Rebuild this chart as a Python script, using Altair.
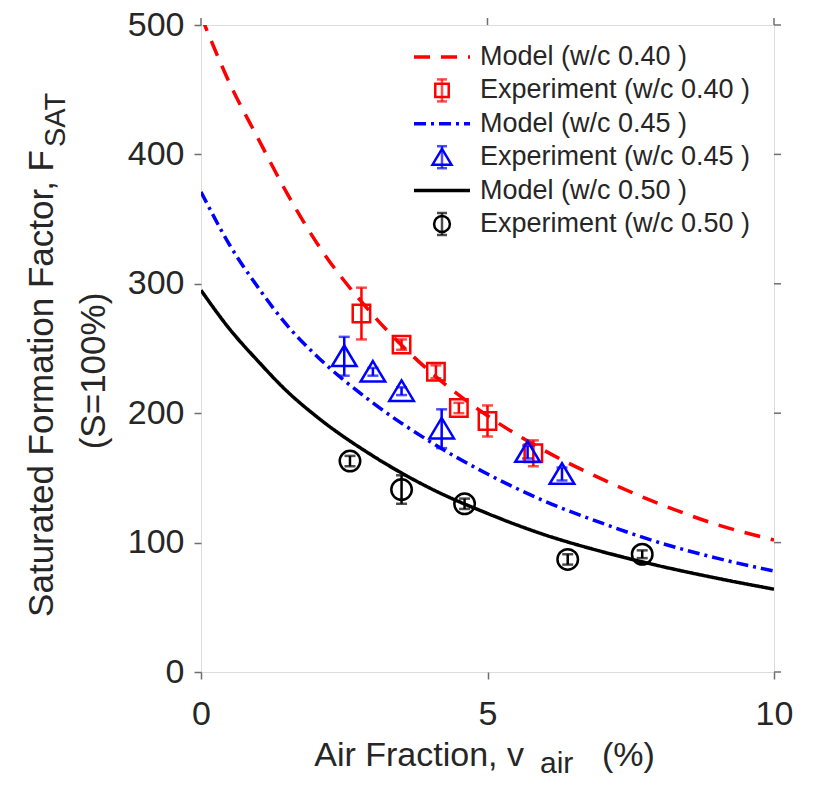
import altair as alt
import pandas as pd

# ---------------- data ----------------
model_x = [0, 0.5, 1, 1.5, 2, 3, 4, 5, 6, 7, 8, 9, 10]
model_040 = [507, 455, 412, 370, 333, 276, 232, 198, 171, 149, 130, 114, 102]
model_045 = [371, 330, 297, 268, 245, 208, 178, 153, 132, 115, 100, 88, 78]
model_050 = [295, 265, 240, 217, 198, 167, 142, 122.5, 106, 93, 82, 72.5, 64]

exp040_x = [2.8, 3.5, 4.1, 4.5, 5.0, 5.8]
exp040_y = [277, 253, 232, 204, 194, 169]
exp040_e = [20, 4, 5, 4, 12, 10]

exp045_x = [2.5, 3.0, 3.5, 4.2, 5.7, 6.3]
exp045_y = [244, 232, 217, 188, 170, 153]
exp045_e = [15, 3, 3, 15, 5, 5]

exp050_x = [2.6, 3.5, 4.6, 6.4, 7.7]
exp050_y = [163, 141, 130, 87, 91]
exp050_e = [4, 11, 4, 4, 3]

series = ["Model (w/c 0.40 )", "Experiment (w/c 0.40 )",
          "Model (w/c 0.45 )", "Experiment (w/c 0.45 )",
          "Model (w/c 0.50 )", "Experiment (w/c 0.50 )"]
kinds = ["model", "exp", "model", "exp", "model", "exp"]

x_ticks = [0, 5, 10]
y_ticks = [0, 100, 200, 300, 400, 500]

y_title = "Saturated Formation Factor, F"
y_title_sub = "SAT"
y_title2 = "(S=100%)"
x_title = "Air Fraction, v"
x_title_sub = "air"
x_title_tail = "(%)"

# ---------------- styles ----------------
colors = ["#ff0000", "#ff0000", "#0000ff", "#0000ff", "#000000", "#000000"]
shapes = ["M-2.7,0H2.7", "M-0.85,-0.85H0.85V0.85H-0.85Z",
          "M-2.7,0H2.7", "M0,-1.05L1.2,0.95L-1.2,0.95Z",
          "M-2.7,0H2.7", "circle"]
dashes = [[16, 11], [1, 0], [12, 5, 3, 5], [1, 0], [1, 0], [1, 0]]

W, H = 573, 647
TOP = 17
FONT = "Liberation Sans"
AX = "#6f6f6f"
TXT = "#262626"

# ---------------- tables ----------------
lines = pd.concat([
    pd.DataFrame({"x": model_x, "F": model_040, "s": series[0]}),
    pd.DataFrame({"x": model_x, "F": model_045, "s": series[2]}),
    pd.DataFrame({"x": model_x, "F": model_050, "s": series[4]}),
])


def exp_df(xs, ys, es, name):
    return pd.DataFrame({"x": xs, "F": ys,
                         "lo": [a - b for a, b in zip(ys, es)],
                         "hi": [a + b for a, b in zip(ys, es)],
                         "s": name})


pts = pd.concat([
    exp_df(exp040_x, exp040_y, exp040_e, series[1]),
    exp_df(exp045_x, exp045_y, exp045_e, series[3]),
    exp_df(exp050_x, exp050_y, exp050_e, series[5]),
])

leg = pd.DataFrame({"s": series, "kind": kinds})
leg_model = leg[leg["kind"] == "model"]
leg_exp = leg[leg["kind"] == "exp"]

xs = alt.Scale(domain=[0, 10], nice=False)
ys = alt.Scale(domain=[0, 500], nice=False)
x_axis = alt.Axis(values=x_ticks, title=None, grid=False, domain=False,
                  tickSize=7, tickWidth=1.5, tickColor=AX,
                  labelFont=FONT, labelFontSize=34, labelColor=TXT,
                  labelPadding=18, labelFlush=False)
y_axis = alt.Axis(values=y_ticks, title=None, grid=False, domain=False,
                  tickSize=7, tickWidth=1.5, tickColor=AX,
                  labelFont=FONT, labelFontSize=34, labelColor=TXT,
                  labelPadding=10, labelFlush=False)

X = alt.X("x:Q", scale=xs, axis=x_axis)
Y = alt.Y("F:Q", scale=ys, axis=y_axis)
color = alt.Color("s:N", scale=alt.Scale(domain=series, range=colors), legend=None)
shape = alt.Shape("s:N", scale=alt.Scale(domain=series, range=shapes), legend=None)
dash = alt.StrokeDash("s:N", scale=alt.Scale(domain=series, range=dashes), legend=None)

line_layer = alt.Chart(lines).mark_line(
    strokeWidth=3.5, clip=True, interpolate="monotone"
).encode(x=X, y=Y, color=color, strokeDash=dash, detail="s:N")

bar_layer = alt.Chart(pts).mark_rule(strokeWidth=2.5).encode(
    x=X, y=alt.Y("lo:Q", scale=ys, axis=y_axis), y2="hi:Q", color=color)
cap_lo = alt.Chart(pts).mark_tick(orient="horizontal", size=11, thickness=2.5).encode(
    x=X, y=alt.Y("lo:Q", scale=ys, axis=y_axis), color=color)
cap_hi = alt.Chart(pts).mark_tick(orient="horizontal", size=11, thickness=2.5).encode(
    x=X, y=alt.Y("hi:Q", scale=ys, axis=y_axis), color=color)

pt_layer = alt.Chart(pts).mark_point(
    filled=False, size=420, strokeWidth=2.5, opacity=1
).encode(x=X, y=Y, color=color, shape=shape)

# outward ticks on top and right edges
ytk = pd.DataFrame({"F": y_ticks})
xtk = pd.DataFrame({"x": x_ticks})
right_ticks = alt.Chart(ytk).mark_rule(color=AX, strokeWidth=1.5).encode(
    y=Y, x=alt.value(W), x2=alt.value(W + 7))
top_ticks = alt.Chart(xtk).mark_rule(color=AX, strokeWidth=1.5).encode(
    x=X, y=alt.value(0), y2=alt.value(-7))


def label(text, x, y, size, angle=0, align="left", baseline="alphabetic"):
    return alt.Chart(pd.DataFrame({"t": [text]})).mark_text(
        font=FONT, fontSize=size, color=TXT, angle=angle, align=align, baseline=baseline
    ).encode(text="t:N", x=alt.value(x), y=alt.value(y))


titles = [
    label(x_title, 323, 741, 34, align="right"),
    label(x_title_sub, 339, 748, 30),
    label(x_title_tail, 401, 741, 34),
    label(y_title, -159, 125, 35, angle=270, align="right", baseline="middle"),
    label(y_title_sub, -145, 122, 29, angle=270, align="left", baseline="middle"),
    label(y_title2, -107, 346, 35, angle=270, align="center", baseline="middle"),
]

# ---------------- legend (inside the plot, top right) ----------------
LY = alt.Y("s:N", scale=alt.Scale(domain=series, type="point", range=[32, 199], padding=0),
           axis=None)
LX_SYM = 241
leg_lines = alt.Chart(leg_model).mark_rule(strokeWidth=3.5).encode(
    x=alt.value(LX_SYM - 28), x2=alt.value(LX_SYM + 28), y=LY, color=color, strokeDash=dash)
leg_bars = alt.Chart(leg_exp).mark_tick(orient="vertical", size=22, thickness=2.5).encode(
    x=alt.value(LX_SYM), y=LY, color=color)
leg_cap_t = alt.Chart(leg_exp).mark_tick(orient="horizontal", size=10, thickness=2.5, yOffset=-11).encode(
    x=alt.value(LX_SYM), y=LY, color=color)
leg_cap_b = alt.Chart(leg_exp).mark_tick(orient="horizontal", size=10, thickness=2.5, yOffset=11).encode(
    x=alt.value(LX_SYM), y=LY, color=color)
leg_pts = alt.Chart(leg_exp).mark_point(filled=False, size=250, strokeWidth=2.5, opacity=1).encode(
    x=alt.value(LX_SYM), y=LY, color=color, shape=shape)
leg_text = alt.Chart(leg).mark_text(
    font=FONT, fontSize=27, color=TXT, align="left", baseline="middle"
).encode(x=alt.value(279), y=LY, text="s:N")

plot_group = alt.layer(line_layer, bar_layer, cap_lo, cap_hi, pt_layer,
                       right_ticks, top_ticks, *titles)
legend_group = alt.layer(leg_lines, leg_bars, leg_cap_t, leg_cap_b, leg_pts, leg_text)

chart = alt.layer(plot_group, legend_group).resolve_scale(
    y="independent"
).properties(
    width=W, height=H,
    autosize=alt.AutoSizeParams(type="none"),
    padding={"left": 193, "top": TOP, "right": 38, "bottom": 109},
).configure_view(
    stroke=AX, strokeWidth=1.5
).configure(background="white")

chart.save("out.html", embed_options={"renderer": "svg", "actions": False})
